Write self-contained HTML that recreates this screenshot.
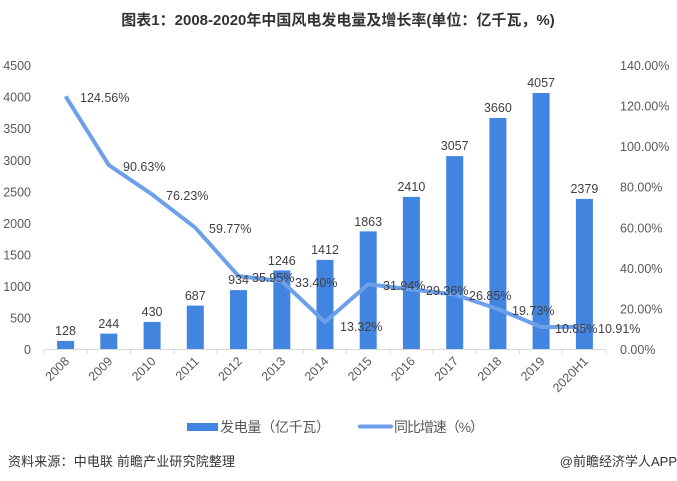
<!DOCTYPE html>
<html><head><meta charset="utf-8"><style>
body{margin:0;background:#fff;width:677px;height:481px;overflow:hidden}
svg{display:block;font-family:"Liberation Sans","Noto Sans CJK SC",sans-serif}
</style></head><body>
<svg width="677" height="481" viewBox="0 0 677 481">
<text x="338" y="25" text-anchor="middle" font-size="15" font-weight="bold" fill="#333">图表1：2008-2020年中国风电发电量及增长率(单位：亿千瓦，%)</text>
<g font-size="12.5" fill="#595959" text-anchor="end">
<text x="31" y="354">0</text><text x="31" y="322.5">500</text><text x="31" y="291">1000</text><text x="31" y="259.4">1500</text><text x="31" y="227.9">2000</text><text x="31" y="196.3">2500</text><text x="31" y="164.8">3000</text><text x="31" y="133.2">3500</text><text x="31" y="101.7">4000</text><text x="31" y="70.1">4500</text>
</g>
<g font-size="12.5" fill="#595959">
<text x="620" y="354">0.00%</text><text x="620" y="313.4">20.00%</text><text x="620" y="272.9">40.00%</text><text x="620" y="232.3">60.00%</text><text x="620" y="191.7">80.00%</text><text x="620" y="151.1">100.00%</text><text x="620" y="110.6">120.00%</text><text x="620" y="70">140.00%</text>
</g>
<line x1="44" y1="349.5" x2="606" y2="349.5" stroke="#d9d9d9"/>
<g stroke="#d9d9d9">
<line x1="44" y1="349" x2="44" y2="354"/><line x1="87.2" y1="349" x2="87.2" y2="354"/><line x1="130.5" y1="349" x2="130.5" y2="354"/><line x1="173.7" y1="349" x2="173.7" y2="354"/><line x1="216.9" y1="349" x2="216.9" y2="354"/><line x1="260.2" y1="349" x2="260.2" y2="354"/><line x1="303.4" y1="349" x2="303.4" y2="354"/><line x1="346.6" y1="349" x2="346.6" y2="354"/><line x1="389.8" y1="349" x2="389.8" y2="354"/><line x1="433.1" y1="349" x2="433.1" y2="354"/><line x1="476.3" y1="349" x2="476.3" y2="354"/><line x1="519.5" y1="349" x2="519.5" y2="354"/><line x1="562.8" y1="349" x2="562.8" y2="354"/><line x1="606" y1="349" x2="606" y2="354"/>
</g>
<g fill="#4285E0">
<rect x="57.1" y="340.9" width="17" height="8.1"/>
<rect x="100.3" y="333.6" width="17" height="15.4"/>
<rect x="143.6" y="321.9" width="17" height="27.1"/>
<rect x="186.8" y="305.6" width="17" height="43.4"/>
<rect x="230" y="290.1" width="17" height="58.9"/>
<rect x="273.3" y="270.4" width="17" height="78.6"/>
<rect x="316.5" y="259.9" width="17" height="89.1"/>
<rect x="359.7" y="231.4" width="17" height="117.6"/>
<rect x="402.9" y="196.9" width="17" height="152.1"/>
<rect x="446.2" y="156.1" width="17" height="192.9"/>
<rect x="489.4" y="118" width="17" height="231"/>
<rect x="532.6" y="93" width="17" height="256"/>
<rect x="575.9" y="198.9" width="17" height="150.1"/>
</g>
<polyline fill="none" stroke="#6CA0EA" stroke-width="4" stroke-linejoin="round" points="65.6,96.3 108.8,165.1 152.1,194.4 195.3,227.7 238.5,276.1 281.8,281.2 325,322 368.2,284.2 411.4,289.4 454.7,294.5 497.9,309 541.1,327 584.4,326.9"/>
<g font-size="12.5" fill="#404040" text-anchor="middle">
<text x="65.6" y="335">128</text><text x="108.8" y="328">244</text><text x="152.1" y="316">430</text><text x="195.3" y="300">687</text><text x="238.5" y="284">934</text><text x="281.8" y="265">1246</text><text x="325" y="254">1412</text><text x="368.2" y="226">1863</text><text x="411.4" y="191">2410</text><text x="454.7" y="150">3057</text><text x="497.9" y="112">3660</text><text x="541.1" y="87">4057</text><text x="584.4" y="193">2379</text>
</g>
<g font-size="12.5" fill="#404040">
<text x="80" y="102">124.56%</text><text x="123" y="171">90.63%</text><text x="166" y="200">76.23%</text><text x="209" y="233">59.77%</text><text x="252" y="282">35.95%</text><text x="295" y="287">33.40%</text><text x="340" y="331">13.32%</text><text x="383" y="290">31.94%</text><text x="426" y="295">29.36%</text><text x="469" y="300">26.85%</text><text x="512" y="315">19.73%</text><text x="555" y="333">10.85%</text><text x="598" y="333">10.91%</text>
</g>
<g font-size="12.5" fill="#595959" text-anchor="end">
<text transform="translate(70,362) rotate(-45)">2008</text>
<text transform="translate(113.2,362) rotate(-45)">2009</text>
<text transform="translate(156.5,362) rotate(-45)">2010</text>
<text transform="translate(199.7,362) rotate(-45)">2011</text>
<text transform="translate(242.9,362) rotate(-45)">2012</text>
<text transform="translate(286.2,362) rotate(-45)">2013</text>
<text transform="translate(329.4,362) rotate(-45)">2014</text>
<text transform="translate(372.6,362) rotate(-45)">2015</text>
<text transform="translate(415.8,362) rotate(-45)">2016</text>
<text transform="translate(459.1,362) rotate(-45)">2017</text>
<text transform="translate(502.3,362) rotate(-45)">2018</text>
<text transform="translate(545.5,362) rotate(-45)">2019</text>
<text transform="translate(588.8,362) rotate(-45)">2020H1</text>
</g>
<rect x="187" y="423" width="31" height="8" fill="#4285E0"/>
<text x="220" y="432" font-size="14" fill="#595959" textLength="110">发电量（亿千瓦）</text>
<line x1="360" y1="426.5" x2="391" y2="426.5" stroke="#6CA0EA" stroke-width="4" stroke-linecap="round"/>
<text x="394" y="432" font-size="14" fill="#595959" textLength="90">同比增速（%）</text>
<text x="8" y="466" font-size="13" fill="#333" textLength="227">资料来源：中电联 前瞻产业研究院整理</text>
<text x="677" y="466" font-size="13" fill="#333" text-anchor="end">@前瞻经济学人APP</text>
</svg>
</body></html>
